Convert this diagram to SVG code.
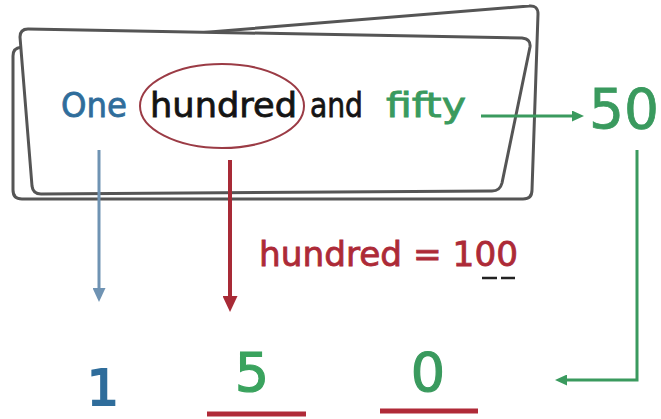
<svg xmlns="http://www.w3.org/2000/svg" width="661" height="419" viewBox="0 0 661 419">
<style>
.card{fill:#fff;stroke:#555;stroke-width:3;stroke-linejoin:round}
.t{font-family:"DejaVu Sans","Liberation Sans",sans-serif}
.blue{fill:#2f6d9b;stroke:#2f6d9b}
.green{fill:#3a9a5e;stroke:#3a9a5e}
.red{fill:#ad2a37;stroke:#ad2a37}
.blk{fill:#141414;stroke:#141414}
.w1{stroke-width:0.8}
.w2{stroke-width:1.2}
.ln{fill:none;stroke-linecap:butt;stroke-linejoin:miter}
</style>
<defs>
<marker id="hBlue" markerUnits="userSpaceOnUse" markerWidth="14" markerHeight="13" refX="0" refY="6.5" orient="auto"><path d="M0,0 L14,6.5 L0,13 z" fill="#6f93b3"/></marker>
<marker id="hRed" markerUnits="userSpaceOnUse" markerWidth="16" markerHeight="15" refX="0" refY="7.5" orient="auto"><path d="M0,0 L16,7.5 L0,15 z" fill="#a82a36"/></marker>
<marker id="hGreen" markerUnits="userSpaceOnUse" markerWidth="12" markerHeight="11" refX="0" refY="5.5" orient="auto"><path d="M0,0 L12,5.5 L0,11 z" fill="#3a9a5e"/></marker>
</defs>
<g id="cards">
<path class="card" d="M13,56 Q13,48 21,47.3 L529,6 Q538,5 538,14 L532,190 Q532,199 523,199 L22,199 Q13,199 13,190 Z"/>
<path class="card" d="M20,37 Q20,29 28,29 L522,38 Q531,39 530,47 L502,183 Q500,191 492,191 L41,194 Q33,194 32,186 Z"/>
</g>
<g id="phrase">
<ellipse cx="222" cy="106" rx="82" ry="42" fill="none" stroke="#9b3b45" stroke-width="2"/>
<text class="t blue w1" x="61" y="117" font-size="34" textLength="66" lengthAdjust="spacingAndGlyphs">One</text>
<text class="t blk w1" x="150" y="117" font-size="34" textLength="147" lengthAdjust="spacingAndGlyphs">hundred</text>
<text class="t blk w1" x="310" y="117" font-size="34" textLength="53" lengthAdjust="spacingAndGlyphs">and</text>
<text class="t green w1" x="386" y="117" font-size="34" textLength="80" lengthAdjust="spacingAndGlyphs">fifty</text>
</g>
<g id="fifty-num">
<text class="t green w1" x="589" y="128" font-size="55">50</text>
</g>
<g id="hundred-eq">
<text class="t red w1" x="259" y="266" font-size="33" textLength="259" lengthAdjust="spacingAndGlyphs">hundred = 100</text>
<path d="M482,278 H497 M501,278 H515" stroke="#222" stroke-width="2.5"/>
</g>
<g id="digit-1"><text class="t blue" x="103" y="405" font-size="50" stroke-width="2.2" text-anchor="middle">1</text></g>
<g id="digit-5">
<text class="t green w2" x="252" y="391" font-size="54" text-anchor="middle" style="fill:#3aa35e;stroke:#3aa35e">5</text>
<line x1="207" y1="414" x2="306" y2="414" stroke="#b02a38" stroke-width="5"/>
</g>
<g id="digit-0">
<text class="t green w2" x="428" y="391" font-size="54" text-anchor="middle">0</text>
<line x1="380" y1="411" x2="478" y2="411" stroke="#b02a38" stroke-width="5"/>
</g>
<g id="connectors">
<path class="ln" d="M481,116 H572" stroke="#3a9a5e" stroke-width="3" marker-end="url(#hGreen)"/>
<path class="ln" d="M99,150 V288" stroke="#6f93b3" stroke-width="3" marker-end="url(#hBlue)"/>
<path class="ln" d="M230,160 V296" stroke="#a82a36" stroke-width="4" marker-end="url(#hRed)"/>
<path class="ln" d="M637,150 V380 H567" stroke="#3a9a5e" stroke-width="3" marker-end="url(#hGreen)"/>
</g>
</svg>
